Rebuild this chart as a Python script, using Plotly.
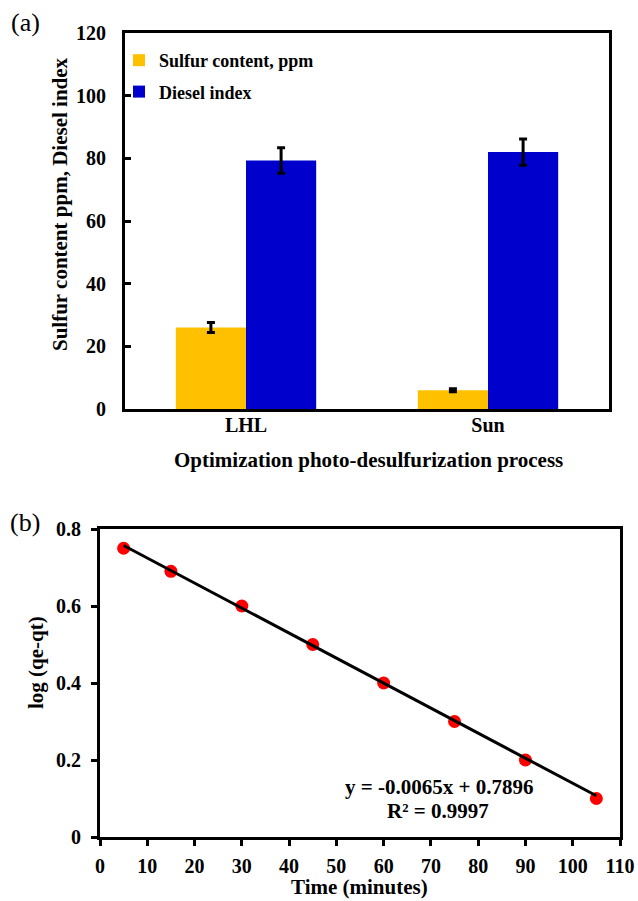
import plotly.graph_objects as go

# ---- data panel (a)
categories = ["LHL", "Sun"]
sulfur = [26, 6]
sulfur_err = [1.6, 0.5]
diesel = [79.3, 82]
diesel_err = [4.1, 4.2]

# ---- data panel (b)
time_min = [5, 15, 30, 45, 60, 75, 90, 105]
log_qe_qt = [0.75, 0.69, 0.60, 0.50, 0.40, 0.30, 0.20, 0.10]
slope = -0.0065
intercept = 0.7896
r2 = 0.9997

W, H = 638, 901
FONT = "Liberation Serif"

def px_x(p):
    return p / W

def px_y(p):
    return 1 - p / H

fig = go.Figure()

fig.add_trace(go.Bar(
    x=categories, y=sulfur, name="Sulfur content, ppm",
    marker=dict(color="#FFC000", line=dict(width=0)),
    error_y=dict(type="data", array=sulfur_err, color="black", thickness=3, width=4),
    xaxis="x", yaxis="y", legendgroup="a",
))
fig.add_trace(go.Bar(
    x=categories, y=diesel, name="Diesel index",
    marker=dict(color="#0000CC", line=dict(width=0)),
    error_y=dict(type="data", array=diesel_err, color="black", thickness=3, width=4),
    xaxis="x", yaxis="y", legendgroup="b",
))

fig.add_trace(go.Scatter(
    x=time_min, y=log_qe_qt, mode="markers",
    marker=dict(color="#FF0000", size=13),
    xaxis="x2", yaxis="y2", showlegend=False,
))
fit_x = [time_min[0], time_min[-1]]
fit_y = [slope * v + intercept for v in fit_x]
fig.add_trace(go.Scatter(
    x=fit_x, y=fit_y, mode="lines",
    line=dict(color="black", width=3),
    xaxis="x2", yaxis="y2", showlegend=False,
))

tickfont = dict(family=FONT, size=20, color="black", weight="bold")
common_axis = dict(showline=True, linewidth=3, linecolor="black", mirror=True,
                   showgrid=False, zeroline=False, tickfont=tickfont, automargin=False)

fig.update_layout(
    width=W, height=H,
    margin=dict(l=0, r=0, t=0, b=0, pad=0, autoexpand=False),
    paper_bgcolor="white", plot_bgcolor="white",
    barmode="group", bargap=0.42, bargroupgap=0,
    font=dict(family=FONT, color="black"),
    xaxis=dict(domain=[px_x(125), px_x(609)], anchor="y", ticks="", ticklen=0,
               ticklabelstandoff=-4, **common_axis),
    yaxis=dict(domain=[px_y(409), px_y(33)], anchor="x", range=[0, 120], dtick=20,
               ticks="inside", ticklen=6, tickwidth=3, tickcolor="black",
               ticklabelstandoff=12, **common_axis),
    xaxis2=dict(domain=[px_x(100), px_x(620)], anchor="y2", range=[0, 110], dtick=10,
                ticks="outside", ticklen=6, tickwidth=3, tickcolor="black",
                ticklabelstandoff=3, **common_axis),
    yaxis2=dict(domain=[px_y(837), px_y(529)], anchor="x2", range=[0, 0.8], dtick=0.2,
                ticks="outside", ticklen=6, tickwidth=3, tickcolor="black",
                ticklabelstandoff=6, **common_axis),
    showlegend=True,
    legend=dict(x=px_x(119), y=px_y(42), xanchor="left", yanchor="top",
                font=dict(family=FONT, size=18, color="black", weight="bold"),
                bgcolor="rgba(0,0,0,0)", tracegroupgap=5, itemwidth=30),
)

title_font = dict(family=FONT, size=21, color="black", weight="bold")
annots = [
    dict(text="(a)", x=px_x(25), y=px_y(23), font=dict(family=FONT, size=26, color="black")),
    dict(text="(b)", x=px_x(25), y=px_y(522), font=dict(family=FONT, size=26, color="black")),
    dict(text="Sulfur content ppm, Diesel index", x=px_x(60), y=px_y(204),
         textangle=-90, font=title_font),
    dict(text="Optimization photo-desulfurization process", x=px_x(368), y=px_y(460),
         font=title_font),
    dict(text="log (qe-qt)", x=px_x(36), y=px_y(663), textangle=-90, font=title_font),
    dict(text="Time (minutes)", x=px_x(360), y=px_y(887), font=title_font),
    dict(text=f"y = {slope}x + {intercept}", x=px_x(439), y=px_y(787), font=title_font),
    dict(text=f"R² = {r2}", x=px_x(438), y=px_y(811), font=title_font),
]
for a in annots:
    fig.add_annotation(xref="paper", yref="paper", xanchor="center", yanchor="middle",
                       showarrow=False, **a)

fig.write_html("out.html")
